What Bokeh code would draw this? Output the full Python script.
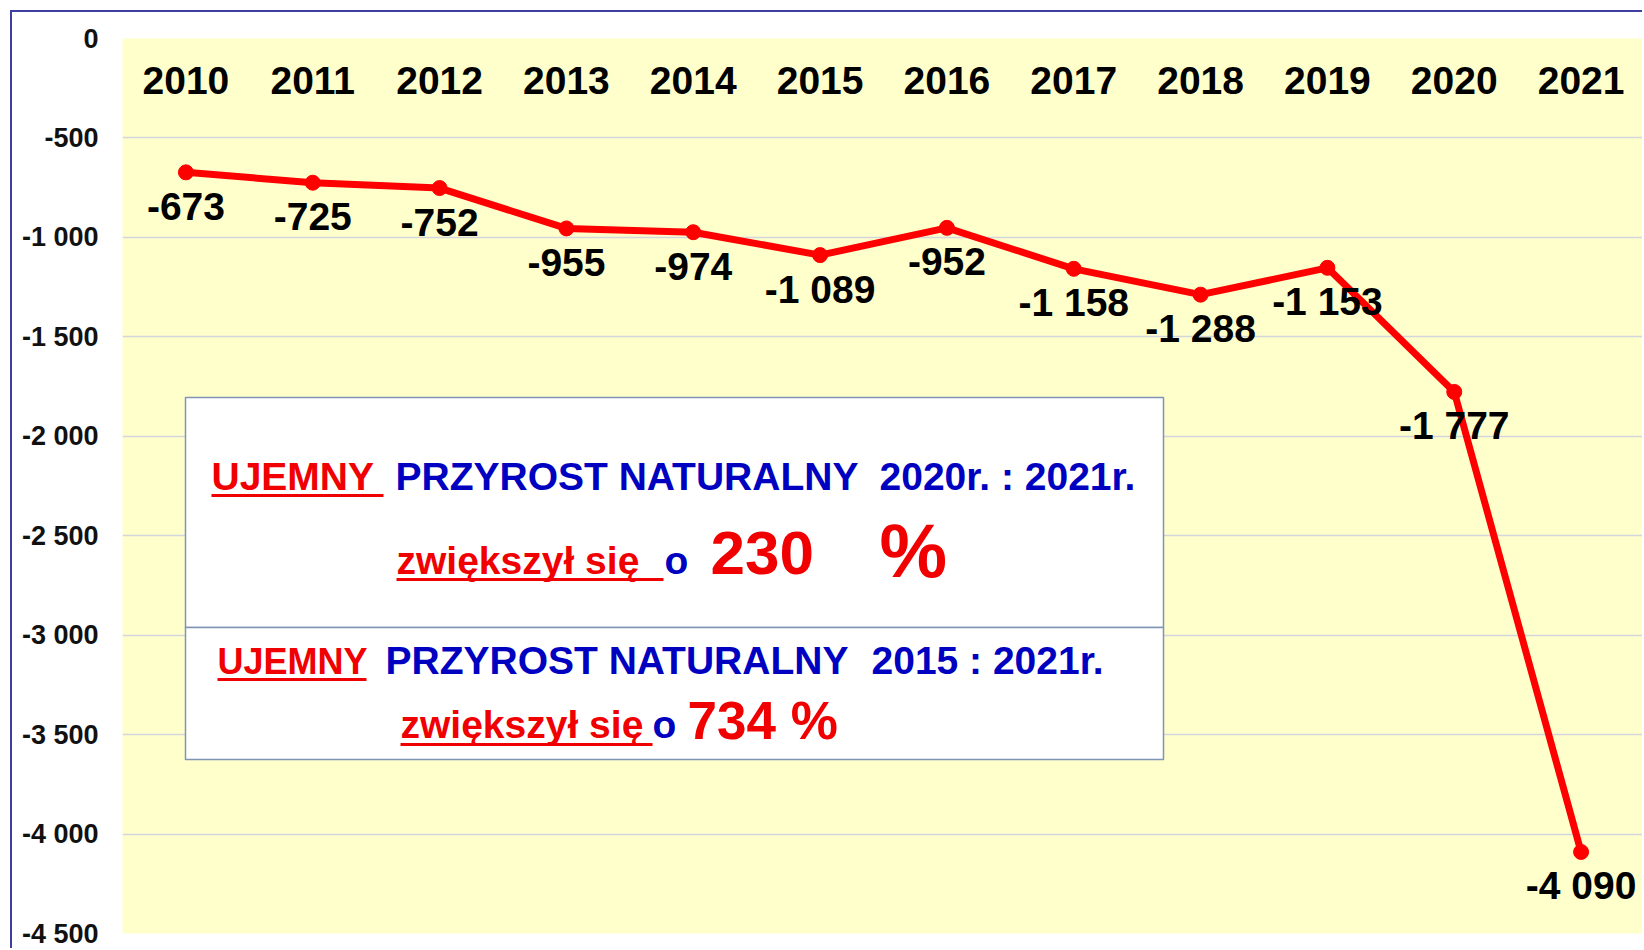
from bokeh.plotting import figure
from bokeh.models import Range1d, FixedTicker, BoxAnnotation, Label, ColumnDataSource
from bokeh.core.properties import value
from bokeh.embed import file_html
from bokeh.resources import INLINE

# ---- data ----
years = ["2010", "2011", "2012", "2013", "2014", "2015",
         "2016", "2017", "2018", "2019", "2020", "2021"]
values = [-673, -725, -752, -955, -974, -1089, -952, -1158, -1288, -1153, -1777, -4090]
y_ticks = [0, -500, -1000, -1500, -2000, -2500, -3000, -3500, -4000, -4500]


def fmt(v):
    return f"{v:,}".replace(",", " ")


# ---- layout ----
OX, OY = 12, 12            # figure origin in the window (margin + css border)
W, H = 1644 - OX, 950 - OY
ML, MR, MT, MB = 110, 0, 26, 17
FONT = "Liberation Sans"
RED = "#FF0000"
TRED = "#F00000"
BLUE = "#0000C0"
BASE = 0.36                # baseline correction (em) for alphabetic text in svg

frame_left = OX + ML
frame_top = OY + MT
frame_w = W - ML - MR
frame_h = H - MT - MB
ncat = len(years)


def dx(X):
    return (X - frame_left) / (frame_w / ncat) - 0.5


def dy(Y):
    return -(Y - frame_top) * 4500 / frame_h


p = figure(width=W, height=H, output_backend="svg", toolbar_location=None,
           x_range=Range1d(-0.5, ncat - 0.5), y_range=Range1d(-4500, 0),
           x_axis_location=None,
           min_border_left=ML, min_border_right=MR, min_border_top=MT, min_border_bottom=MB,
           background_fill_color="#FFFFCC", border_fill_color="white",
           outline_line_color=None)
p.styles = {"margin-left": "10px", "margin-top": "10px",
            "border-left": "2px solid #3f3fa2", "border-top": "2px solid #3f3fa2"}

p.yaxis.ticker = FixedTicker(ticks=y_ticks)
p.yaxis.major_label_overrides = {t: fmt(t) for t in y_ticks}
p.yaxis.axis_line_color = None
p.yaxis.major_tick_line_color = None
p.yaxis.minor_tick_line_color = None
p.yaxis.major_label_standoff = 18
p.yaxis.major_label_text_font = FONT
p.yaxis.major_label_text_font_style = "bold"
p.yaxis.major_label_text_font_size = "27px"
p.yaxis.major_label_text_color = "#111111"
p.ygrid.ticker = FixedTicker(ticks=y_ticks)
p.ygrid.grid_line_color = "#d3d7dc"
p.ygrid.grid_line_width = 1.5
p.xgrid.visible = False

src = ColumnDataSource(dict(
    x=list(range(ncat)), y=values, year=years, label=[fmt(v) for v in values]))

# year labels inside the plot, at top
p.text(x="x", y=dy(94 - BASE * 39), text="year", source=src, text_align="center",
       text_baseline="alphabetic", text_font=value(FONT), text_font_style="bold",
       text_font_size="39px", text_color="black")

# series
p.line(x="x", y="y", source=src, line_color=RED, line_width=7)
p.scatter(x="x", y="y", source=src, size=15, fill_color=RED, line_color=RED)
p.text(x="x", y="y", text="label", source=src, y_offset=48 - BASE * 39, text_align="center",
       text_baseline="alphabetic", text_font=value(FONT), text_font_style="bold",
       text_font_size="39px", text_color="black")

# ---- text box ----
box_l, box_r = dx(185), dx(1163)
for top, bottom in [(397, 627), (627, 759)]:
    p.add_layout(BoxAnnotation(left=box_l, right=box_r, top=dy(top), bottom=dy(bottom),
                               fill_color="white", fill_alpha=1, line_color="#7f95b3",
                               line_alpha=1, line_width=1.5))


def lab(X, Y, text, size, color):
    p.add_layout(Label(x=dx(X), y=dy(Y - BASE * size), text=text, text_font=FONT,
                       text_font_style="bold", text_font_size=f"{size}px",
                       text_color=color, text_align="left",
                       text_baseline="alphabetic"))


def underline(X0, X1, Y):
    p.add_layout(BoxAnnotation(left=dx(X0), right=dx(X1), top=dy(Y - 1.5), bottom=dy(Y + 1.5),
                               fill_color=TRED, fill_alpha=1, line_color=None))


# line 1
lab(211, 490, "UJEMNY", 39, TRED)
underline(211, 383, 495)
lab(395, 490, "PRZYROST NATURALNY", 39, BLUE)
lab(879, 490, "2020r. : 2021r.", 39, BLUE)
# line 2
lab(396, 574, "zwiększył się", 39, TRED)
underline(396, 663, 579)
lab(664, 574, "o", 39, BLUE)
lab(710, 575, "230", 62, TRED)
lab(879, 577, "%", 76, TRED)
# line 3
lab(217, 674, "UJEMNY", 36, TRED)
underline(217, 366, 679)
lab(385, 674, "PRZYROST NATURALNY", 39, BLUE)
lab(871, 674, "2015 : 2021r.", 39, BLUE)
# line 4
lab(400, 738, "zwiększył się", 39, TRED)
underline(400, 652, 744)
lab(652, 738, "o", 39, BLUE)
lab(687, 739, "734 %", 53, TRED)

open("out.html", "w").write(file_html(p, INLINE))
